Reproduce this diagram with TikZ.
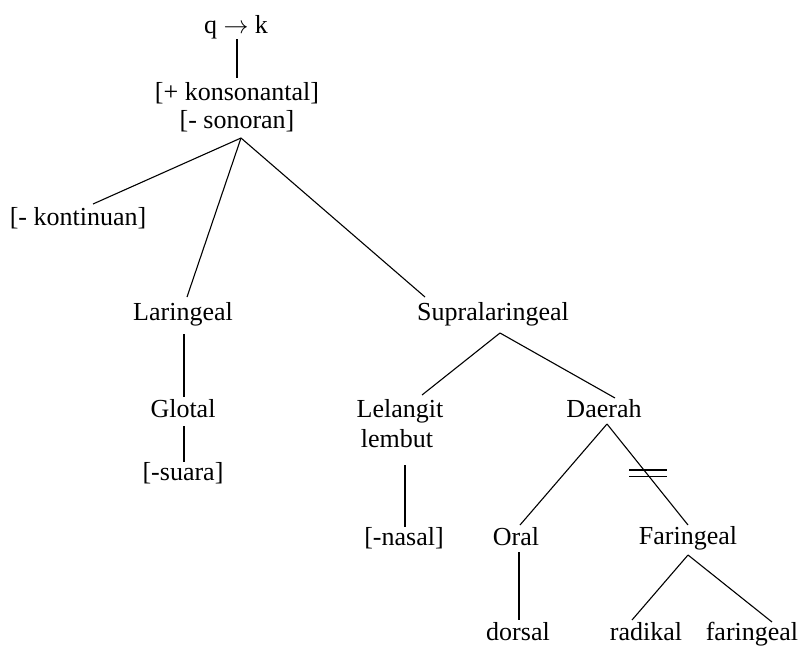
\documentclass[tikz,border=0pt]{standalone}
\usepackage{fontspec}
\setmainfont{Liberation Serif}
\begin{document}
\begin{tikzpicture}[x=1pt,y=-1pt,
  lbl/.style={inner sep=0pt,anchor=base,font=\fontsize{26}{30}\selectfont},
  edge/.style={line width=1.1pt,black}]
\useasboundingbox (0,0) rectangle (802,645);

% feature labels
\node[lbl] (qk)    at (236,33)  {q $\rightarrow$ k};
\node[lbl] (kons)  at (237,100) {[+ konsonantal]};
\node[lbl] (son)   at (237,128.5) {[- sonoran]};
\node[lbl] (kont)  at (78,225)  {[- kontinuan]};
\node[lbl] (lar)   at (183,320.5) {Laringeal};
\node[lbl] (supra) at (493,320.5) {Supralaringeal};
\node[lbl] (glot)  at (183,417) {Glotal};
\node[lbl] (suara) at (183,480) {[-suara]};
\node[lbl] (lel)   at (400,417) {Lelangit};
\node[lbl] (lemb)  at (397,447) {lembut};
\node[lbl] (daer)  at (604,417) {Daerah};
\node[lbl] (nasal) at (404,545) {[-nasal]};
\node[lbl] (oral)  at (516,545) {Oral};
\node[lbl] (far)   at (688,544) {Faringeal};
\node[lbl] (dors)  at (518,640) {dorsal};
\node[lbl] (rad)   at (646,640) {radikal};
\node[lbl] (farg)  at (752,640) {faringeal};

% connector end points
\coordinate (qkB)    at (237,39);
\coordinate (konsT)  at (237,78);
\coordinate (sonB)   at (241,138);
\coordinate (kontT)  at (93,204);
\coordinate (larT)   at (187,297);
\coordinate (supraT) at (425,297);
\coordinate (larB)   at (184,334);
\coordinate (glotT)  at (184,397);
\coordinate (glotB)  at (184,426);
\coordinate (suaraT) at (184,462);
\coordinate (supraB) at (500,333);
\coordinate (lelT)   at (422,395);
\coordinate (daerT)  at (615,398);
\coordinate (lembB)  at (405,465);
\coordinate (nasalT) at (405,527);
\coordinate (daerB)  at (607,424);
\coordinate (oralT)  at (520,525);
\coordinate (farT)   at (688,525);
\coordinate (oralB)  at (519,552);
\coordinate (dorsT)  at (519,620);
\coordinate (farB)   at (688,555);
\coordinate (radT)   at (632,620);
\coordinate (fargT)  at (772,622);

% tree edges
\draw[edge] (qkB) -- (konsT);
\draw[edge] (sonB) -- (kontT);
\draw[edge] (sonB) -- (larT);
\draw[edge] (sonB) -- (supraT);
\draw[edge] (larB) -- (glotT);
\draw[edge] (glotB) -- (suaraT);
\draw[edge] (supraB) -- (lelT);
\draw[edge] (supraB) -- (daerT);
\draw[edge] (lembB) -- (nasalT);
\draw[edge] (daerB) -- (oralT);
\draw[edge] (daerB) -- (farT);
\draw[edge] (oralB) -- (dorsT);
\draw[edge] (farB) -- (radT);
\draw[edge] (farB) -- (fargT);

% delinking mark on the Daerah--Faringeal edge
\coordinate (cutL1) at (629,470);
\coordinate (cutR1) at (667,470);
\coordinate (cutL2) at (629,476.5);
\coordinate (cutR2) at (667,476.5);
\draw[edge] (cutL1) -- (cutR1);
\draw[edge] (cutL2) -- (cutR2);
\end{tikzpicture}
\end{document}
